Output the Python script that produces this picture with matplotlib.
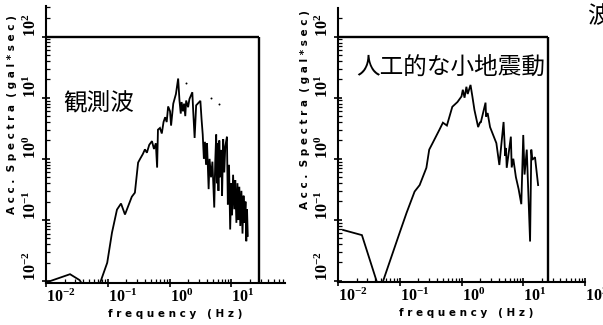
import matplotlib
matplotlib.use("Agg")
import matplotlib.pyplot as plt

plt.rcParams['font.family'] = ['Noto Sans CJK JP', 'DejaVu Sans']
plt.rcParams['mathtext.fontset'] = 'custom'
plt.rcParams['mathtext.rm'] = 'Liberation Serif:bold'
plt.rcParams['mathtext.it'] = 'Liberation Serif:bold'
plt.rcParams['mathtext.bf'] = 'Liberation Serif:bold'

# ---- observed wave (left panel) ----
obs_freq = [0.010, 0.0245, 0.035, 0.05, 0.075, 0.098, 0.117, 0.141, 0.164, 0.19,
            0.245, 0.275, 0.31, 0.334, 0.37, 0.40, 0.43, 0.47, 0.52, 0.56,
            0.60, 0.63, 0.65, 0.70, 0.75, 0.80, 0.85, 0.90, 0.95, 1.02,
            1.06, 1.15, 1.27, 1.38, 1.45, 1.52, 1.57, 1.65, 1.72, 1.80,
            1.86, 2.0, 2.1, 2.34, 2.42, 2.55, 2.7, 3.16, 3.3, 3.45,
            3.6, 3.75, 3.9, 4.05, 4.3, 4.45, 4.7, 4.95, 5.3, 5.5,
            5.7, 5.85, 6.0, 6.2, 6.4, 6.6, 6.9, 7.1, 7.4, 7.7,
            8.0, 8.5, 8.8, 9.2, 9.6, 10.0, 10.3, 10.7, 11.2, 11.6,
            12.1, 12.6, 13.0, 13.5, 14.0, 14.6, 15.2, 15.8, 16.4, 17.0,
            17.5, 18.0, 18.5]
obs_amp = [0.0095, 0.013, 0.0104, 0.006, 0.0093, 0.020, 0.062, 0.148, 0.186, 0.123,
           0.24, 0.28, 0.87, 1.0, 1.2, 1.43, 1.26, 1.7, 1.95, 1.45,
           1.8, 0.72, 3.0, 3.2, 2.6, 4.0, 4.8, 4.0, 7.2, 6.0,
           3.5, 8.0, 11.5, 20.6, 9.0, 5.5, 8.5, 6.0, 8.0, 5.0,
           9.0, 7.0, 9.5, 12.3, 6.0, 2.2, 7.5, 8.9, 4.5, 2.5,
           1.0, 1.9, 0.8, 1.8, 0.32, 1.0, 0.5, 0.9, 0.16, 0.9,
           2.5, 0.4, 1.8, 0.3, 2.0, 0.5, 1.4, 0.25, 2.1, 0.6,
           1.6, 2.3, 0.18, 0.8, 0.07, 0.4, 0.12, 0.55, 0.15, 0.45,
           0.09, 0.4, 0.1, 0.35, 0.08, 0.3, 0.06, 0.25, 0.09, 0.2,
           0.045, 0.15, 0.055]
obs_dot_freq = [1.86, 4.7, 6.4]
obs_dot_amp = [17.4, 9.8, 7.9]

# ---- artificial small ground motion (right panel) ----
art_freq = [0.0121, 0.0244, 0.0427, 0.053, 0.1, 0.129, 0.174, 0.21, 0.27, 0.30,
            0.34, 0.44, 0.50, 0.58, 0.71, 0.86, 1.0, 1.05, 1.12, 1.2,
            1.26, 1.4, 1.5, 1.62, 1.86, 2.0, 2.05, 2.45, 2.5, 2.65,
            2.9, 3.67, 4.1, 4.8, 5.1, 5.25, 5.4, 6.3, 6.5, 6.9,
            7.6, 8.4, 9.3, 10.0, 10.5, 11.4, 12.9, 13.5, 14.0, 15.5,
            17.4]
art_amp = [0.068, 0.056, 0.0095, 0.0095, 0.062, 0.13, 0.29, 0.37, 0.71, 1.41,
           1.8, 3.0, 3.9, 3.5, 7.1, 8.5, 10.5, 13.5, 10.0, 15.1,
           11.5, 16.2, 10.5, 6.3, 3.3, 4.0, 3.9, 8.3, 4.9, 5.6,
           3.3, 1.8, 0.79, 4.0, 1.12, 1.5, 0.71, 2.3, 0.72, 1.0,
           0.5, 0.32, 0.18, 2.45, 0.55, 1.41, 0.044, 1.41, 0.96, 1.06,
           0.37]

dec_ticks = [0.01, 0.1, 1, 10, 100]
dec_labels = [r'$10^{-2}$', r'$10^{-1}$', r'$10^{0}$', r'$10^{1}$', r'$10^{2}$']

W, H = 603, 325
fig = plt.figure(figsize=(W / 100, H / 100), dpi=100)


def panel(px_left, px_right, px_bottom, px_top, xmax, ylo, yhi, box_x,
          freq, amp, title, title_px, ylab_px, xlab_px):
    ax = fig.add_axes([px_left / W, 1 - px_bottom / H,
                       (px_right - px_left) / W, (px_bottom - px_top) / H])
    ax.set_xscale('log')
    ax.set_yscale('log')
    ax.set_xlim(0.01, xmax)
    ax.set_ylim(ylo, yhi)
    ax.plot(freq, amp, color='black', lw=1.3, solid_joinstyle='miter')
    for s in ('top', 'right'):
        ax.spines[s].set_visible(False)
    for s in ('left', 'bottom'):
        ax.spines[s].set_linewidth(1.5)
    # frame box
    ax.hlines(100, 0.01, box_x, color='black', lw=1.7, clip_on=False)
    ax.vlines(box_x, ylo, 100, color='black', lw=1.7, clip_on=False)

    xt = [t for t in dec_ticks if t <= xmax * 1.01]
    ax.set_xticks(xt, labels=dec_labels[:len(xt)])
    ax.set_yticks(dec_ticks, labels=dec_labels)
    ax.xaxis.set_minor_locator(matplotlib.ticker.LogLocator(base=10, subs=range(2, 10), numticks=20))
    ax.yaxis.set_minor_locator(matplotlib.ticker.LogLocator(base=10, subs=range(2, 10), numticks=20))
    ax.xaxis.set_minor_formatter(matplotlib.ticker.NullFormatter())
    ax.yaxis.set_minor_formatter(matplotlib.ticker.NullFormatter())
    ax.tick_params(which='major', direction='inout', length=6, width=1.2, labelsize=11.5, pad=1)
    ax.tick_params(which='minor', direction='in', length=3, width=0.9)
    for lab in ax.get_xticklabels():
        lab.set_horizontalalignment('left')
    for lab in ax.get_yticklabels():
        lab.set_rotation(90)
        lab.set_verticalalignment('bottom')
        lab.set_horizontalalignment('right')

    fig.text(title_px[0] / W, 1 - title_px[1] / H, title, fontsize=17,
             ha='left', va='center')
    fig.text(ylab_px[0] / W, 1 - ylab_px[1] / H,
             'A c c .  S p e c t r a  ( g a l * s e c )',
             rotation=90, ha='center', va='center', fontsize=7.5,
             fontweight='bold', family='DejaVu Sans')
    fig.text(xlab_px[0] / W, 1 - xlab_px[1] / H,
             'f r e q u e n c y   ( H z )', ha='center', va='center',
             fontsize=7.5, fontweight='bold', family='DejaVu Sans')
    return ax


ax1 = panel(46, 285, 283, 6, 10 ** 1.87, 10 ** (-2.03), 10 ** 2.5, 28.0,
            obs_freq, obs_amp, '観測波', (63, 104), (12, 115), (175, 314))
ax1.scatter(obs_dot_freq, obs_dot_amp, s=2, color='black', linewidths=0)

ax2 = panel(338, 585, 282, 8, 100, 10 ** (-2.02), 10 ** 2.47, 25.0,
            art_freq, art_amp, '人工的な小地震動', (356, 67), (305, 110), (466, 313))

fig.text(587 / W, 1 - 17 / H, '波', fontsize=17, ha='left', va='center')

fig.savefig('out.png', dpi=100)
